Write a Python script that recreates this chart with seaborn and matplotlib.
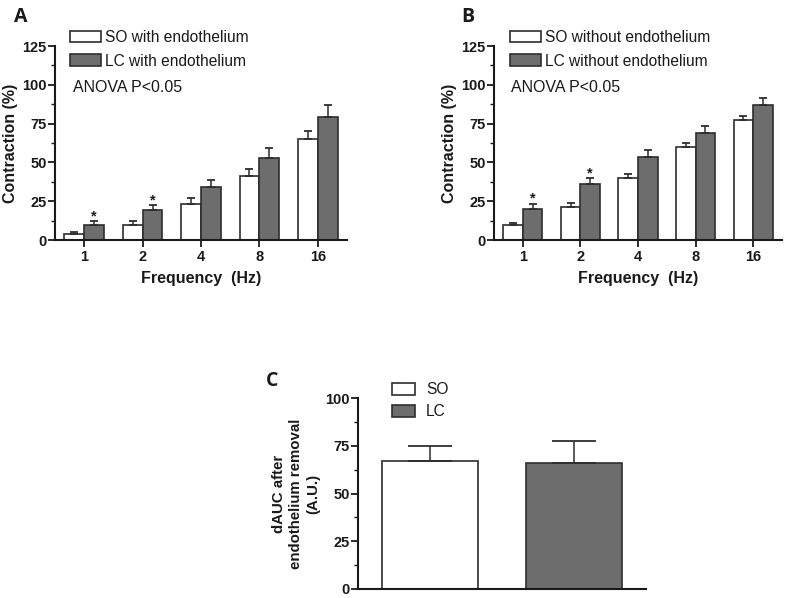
import numpy as np
import pandas as pd
import matplotlib
matplotlib.use("Agg")
import matplotlib.pyplot as plt
import seaborn as sns
from matplotlib.patches import Patch
from matplotlib.ticker import MultipleLocator

sns.set_theme(style="ticks")
plt.rcParams['font.family'] = ['Liberation Sans', 'DejaVu Sans']

# ---------------- data ----------------
freqs = ["1", "2", "4", "8", "16"]
a_so_mean = [3.7, 9.5, 23.0, 41.0, 65.0]
a_so_err = [1.5, 2.5, 3.8, 5.0, 5.0]
a_lc_mean = [9.8, 19.3, 34.0, 53.0, 79.5]
a_lc_err = [2.3, 3.2, 4.5, 6.5, 7.5]
a_labels = ["SO with endothelium", "LC with endothelium"]

b_so_mean = [9.9, 21.5, 40.0, 59.9, 77.5]
b_so_err = [1.3, 2.3, 2.7, 2.6, 2.6]
b_lc_mean = [20.2, 36.1, 53.2, 68.9, 86.7]
b_lc_err = [3.3, 3.8, 4.8, 4.7, 4.8]
b_labels = ["SO without endothelium", "LC without endothelium"]

c_groups = ["SO", "LC"]
c_mean = [67.0, 66.0]
c_err = [8.0, 11.5]

star_freqs = ["1", "2"]
anova_text = "ANOVA P<0.05"

WHITE = "#ffffff"
GRAY = "#6d6d6d"
EDGE = "#2e2e2e"
TXT = "#1a1a1a"

W, H = 787, 598
fig = plt.figure(figsize=(W / 100, H / 100), dpi=100)


def ax_px(left, right, top, bottom):
    return fig.add_axes([left / W, 1 - bottom / H, (right - left) / W, (bottom - top) / H])


def style_axis(ax, ymax, ylabel, xlabel, ylabel_size=11.5):
    sns.despine(ax=ax)
    for s in ["left", "bottom"]:
        ax.spines[s].set_linewidth(1.5)
        ax.spines[s].set_color(TXT)
    ax.set_ylim(0, ymax)
    ax.yaxis.set_major_locator(MultipleLocator(25))
    ax.yaxis.set_minor_locator(MultipleLocator(12.5))
    ax.tick_params(axis="y", which="major", length=5, width=1.3, color=TXT, pad=1,
                   labelsize=10.5, labelcolor=TXT)
    ax.tick_params(axis="y", which="minor", length=3, width=1.0, color=TXT)
    ax.tick_params(axis="x", which="major", length=5, width=1.3, color=TXT, pad=2,
                   labelsize=10.5, labelcolor=TXT)
    for lab in ax.get_yticklabels() + ax.get_xticklabels():
        lab.set_fontweight("bold")
    ax.set_ylabel(ylabel, fontsize=ylabel_size, fontweight="bold", color=TXT, labelpad=3)
    ax.set_xlabel(xlabel, fontsize=11.5, fontweight="bold", color=TXT, labelpad=5)
    ax.set_facecolor("white")


def grouped_panel(ax, so_mean, so_err, lc_mean, lc_err, labels):
    df = pd.DataFrame({
        "freq": freqs * 2,
        "value": list(so_mean) + list(lc_mean),
        "err": list(so_err) + list(lc_err),
        "group": [labels[0]] * len(freqs) + [labels[1]] * len(freqs),
    })
    sns.barplot(data=df, x="freq", y="value", hue="group", order=freqs,
                hue_order=labels, palette=[WHITE, GRAY], width=0.68,
                edgecolor=EDGE, linewidth=1.2, errorbar=None, legend=False, ax=ax)
    ax.set_xlim(-0.5, len(freqs) - 0.5)
    patches = ax.patches[:2 * len(freqs)]
    xs = [p.get_x() + p.get_width() / 2 for p in patches]
    hs = [p.get_height() for p in patches]
    errs = list(so_err) + list(lc_err)
    ax.errorbar(xs, hs, yerr=[np.zeros(len(errs)), errs], fmt="none",
                ecolor=EDGE, elinewidth=1.1, capsize=3, capthick=1.3, zorder=1)
    # significance stars on LC bars
    for f in star_freqs:
        i = freqs.index(f) + len(freqs)
        ax.text(xs[i], hs[i] + errs[i] + 3.0, "*", ha="center", va="center",
                fontsize=10.5, fontweight="bold", color=TXT)
    ax.text(-0.2, 98, anova_text, ha="left", va="center", fontsize=11.5, color=TXT)
    handles = [Patch(facecolor=WHITE, edgecolor=EDGE, linewidth=1.2),
               Patch(facecolor=GRAY, edgecolor=EDGE, linewidth=1.2)]
    return handles


leg_kw = dict(loc="upper left", frameon=False, fontsize=11.2, handlelength=2.0,
              handleheight=0.75, handletextpad=0.25, labelspacing=0.55, borderpad=0,
              borderaxespad=0, labelcolor=TXT)

# ---------------- Panel A ----------------
axA = ax_px(55, 347, 46, 240)
hA = grouped_panel(axA, a_so_mean, a_so_err, a_lc_mean, a_lc_err, a_labels)
style_axis(axA, 125, "Contraction (%)", "Frequency  (Hz)")
fig.legend(hA, a_labels, bbox_to_anchor=(70 / W, 1 - 30 / H), **leg_kw)

# ---------------- Panel B ----------------
axB = ax_px(494, 782, 46, 240)
hB = grouped_panel(axB, b_so_mean, b_so_err, b_lc_mean, b_lc_err, b_labels)
style_axis(axB, 125, "Contraction (%)", "Frequency  (Hz)")
fig.legend(hB, b_labels, bbox_to_anchor=(510 / W, 1 - 30 / H), **leg_kw)

# ---------------- Panel C ----------------
axC = ax_px(358, 646, 398, 589)
dfc = pd.DataFrame({"group": c_groups, "value": c_mean, "err": c_err})
sns.barplot(data=dfc, x="group", y="value", hue="group", order=c_groups,
            hue_order=c_groups, palette=[WHITE, GRAY], width=0.66,
            edgecolor=EDGE, linewidth=1.2, errorbar=None, legend=False, ax=axC)
axC.set_xlim(-0.5, 1.5)
pc = axC.patches[:len(c_groups)]
xc = [p.get_x() + p.get_width() / 2 for p in pc]
hc = [p.get_height() for p in pc]
axC.errorbar(xc, hc, yerr=[np.zeros(len(c_err)), c_err], fmt="none", ecolor=EDGE,
             elinewidth=1.1, capsize=16, capthick=1.3, zorder=1)
style_axis(axC, 100, "", "")
axC.set_xticks([])
axC.set_ylabel("dAUC after\nendothelium removal\n(A.U.)", fontsize=10.8,
               fontweight="bold", color=TXT, labelpad=3.5, linespacing=1.3)
hC = [Patch(facecolor=WHITE, edgecolor=EDGE, linewidth=1.2),
      Patch(facecolor=GRAY, edgecolor=EDGE, linewidth=1.2)]
fig.legend(hC, c_groups, loc="upper left", bbox_to_anchor=(392 / W, 1 - 382 / H),
           frameon=False, fontsize=11.2, handlelength=1.45, handleheight=0.8,
           handletextpad=0.75, labelspacing=0.45, borderpad=0, borderaxespad=0,
           labelcolor=TXT)

# ---------------- panel letters ----------------
for letter, x, y in [("A", 14, 17), ("B", 461, 17), ("C", 266, 381)]:
    fig.text(x / W, 1 - y / H, letter, fontsize=14, fontweight="bold",
             ha="left", va="center", color=TXT, family=["Open Sans", "DejaVu Sans"])

fig.savefig("out.png", dpi=100, facecolor="white")
